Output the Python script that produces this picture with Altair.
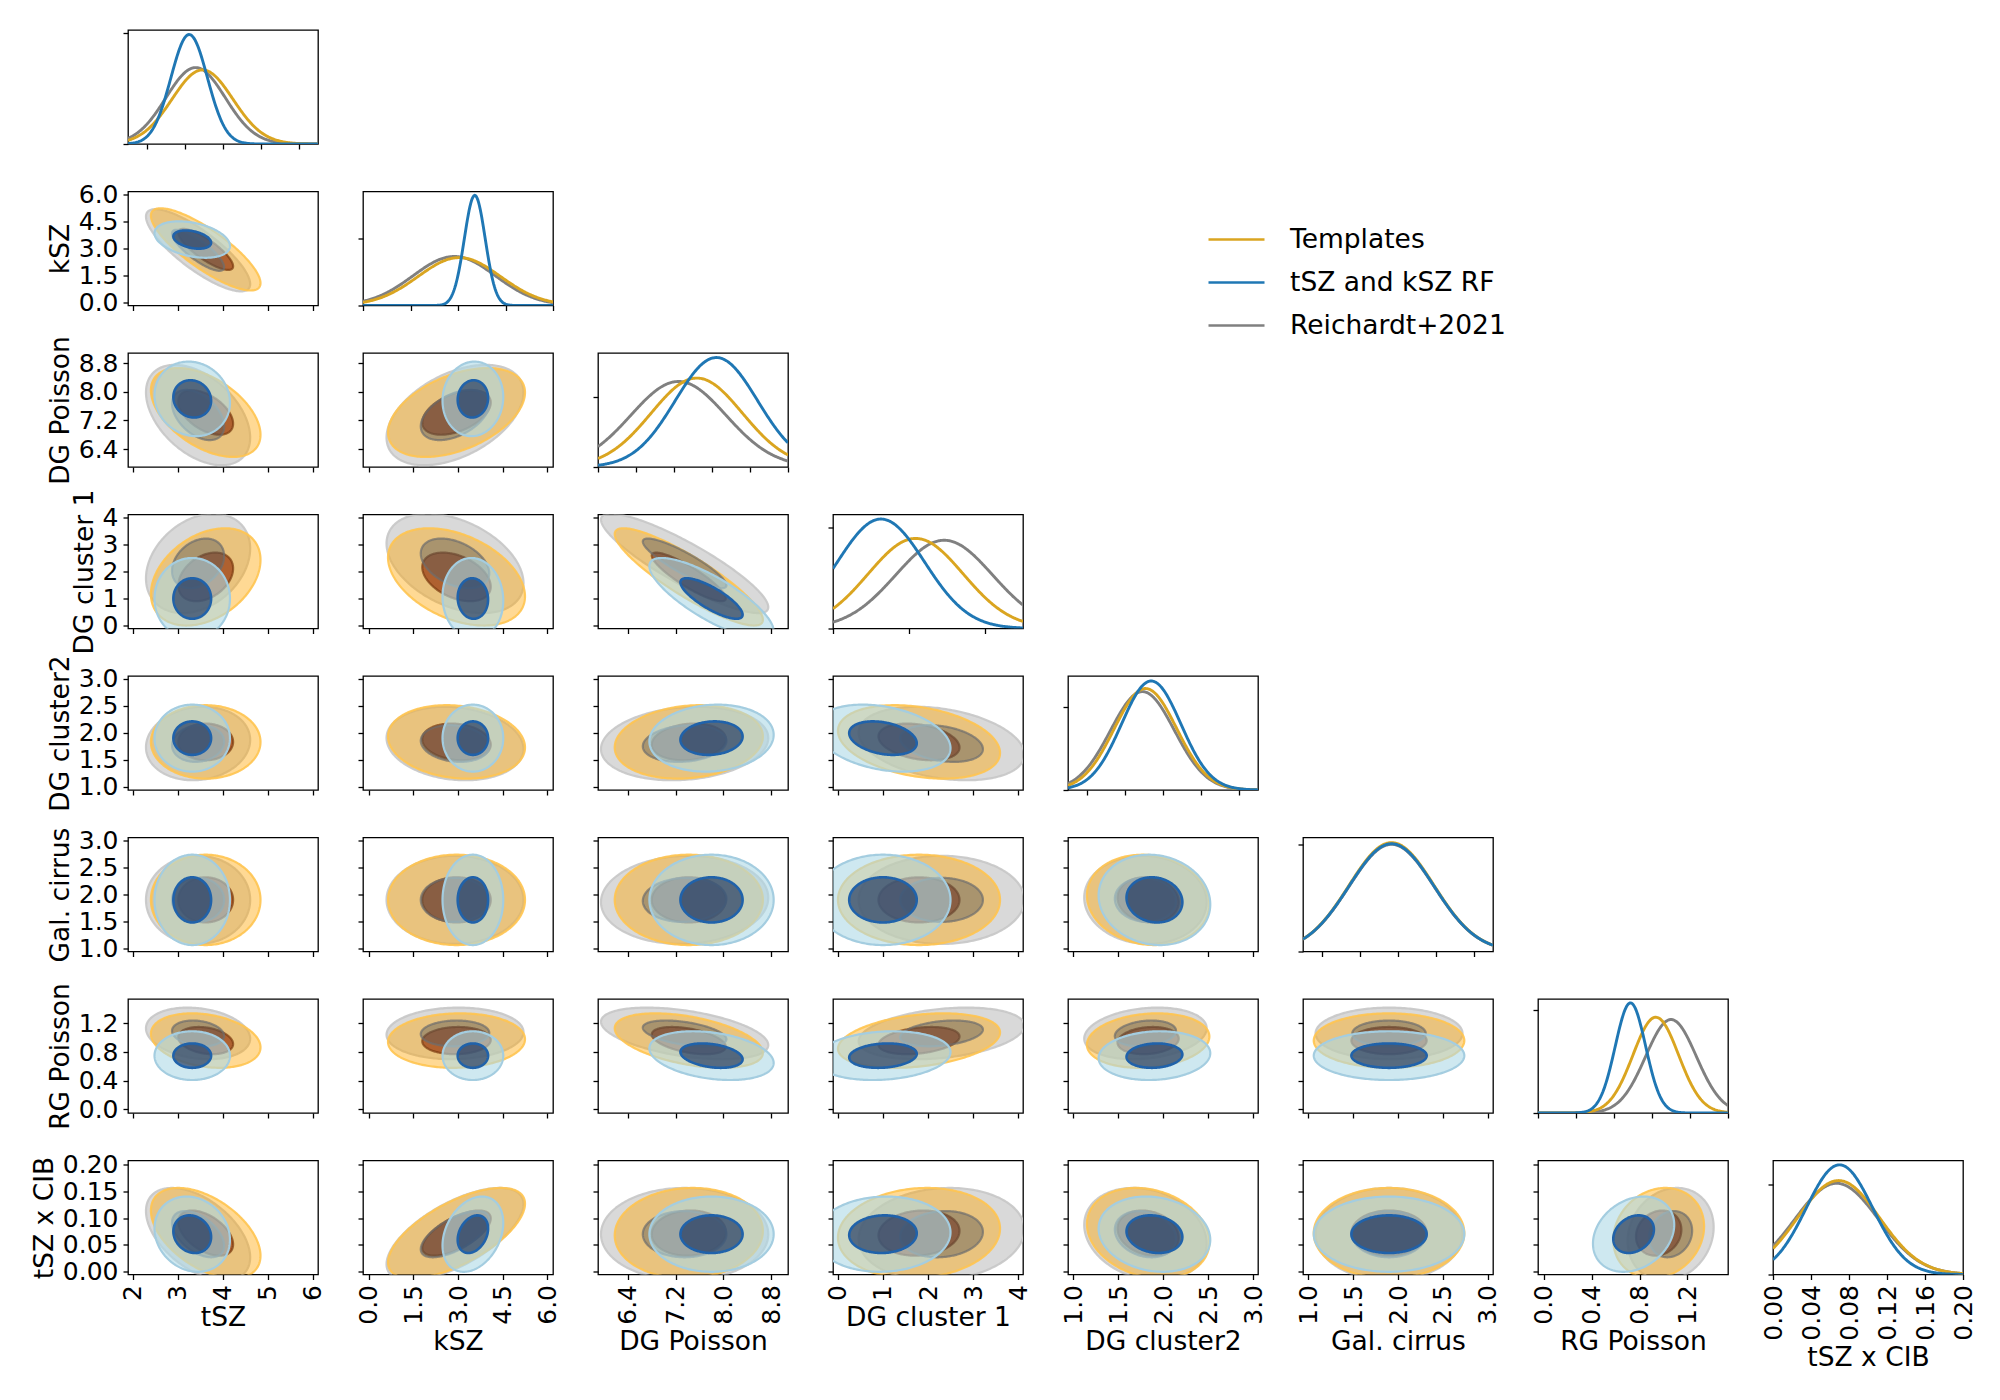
import numpy as np
import pandas as pd
import altair as alt

params = ["tSZ", "kSZ", "DG Poisson", "DG cluster 1", "DG cluster2",
          "Gal. cirrus", "RG Poisson", "tSZ x CIB"]
series = ["Templates", "tSZ and kSZ RF", "Reichardt+2021"]
line_colors = ["#DAA520", "#1f77b4", "#808080"]

# off-diagonal axis ranges / ticks
ax_lo = [1.89, -0.19, 5.90, -0.11, 0.94, 0.94, -0.05, -0.005]
ax_hi = [6.12, 6.19, 9.08, 4.11, 3.05, 3.06, 1.54, 0.207]
ax_ticks = [[2, 3, 4, 5, 6], [0.0, 1.5, 3.0, 4.5, 6.0], [6.4, 7.2, 8.0, 8.8],
            [0, 1, 2, 3, 4], [1.0, 1.5, 2.0, 2.5, 3.0], [1.0, 1.5, 2.0, 2.5, 3.0],
            [0.0, 0.4, 0.8, 1.2], [0.0, 0.05, 0.10, 0.15, 0.20]]
ax_fmt = ["d", ".1f", ".1f", "d", ".1f", ".1f", ".1f", ".2f"]

# diagonal axis ranges / ticks
dg_lo = [1.5, 0.0, 6.0, 0.0, 0.75, 0.75, 0.0, 0.0]
dg_hi = [6.5, 6.0, 9.0, 4.0, 3.25, 3.25, 1.5, 0.2]
dg_ticks = [[2, 3, 4, 5, 6], [0, 1.5, 3, 4.5, 6], [6.0, 6.6, 7.2, 7.8, 8.4, 9.0],
            [0, 0.8, 1.6, 2.4, 3.2, 4.0], [1, 1.5, 2, 2.5, 3], [1, 1.5, 2, 2.5, 3],
            [0, 0.3, 0.6, 0.9, 1.2, 1.5], [0.0, 0.04, 0.08, 0.12, 0.16, 0.20]]
dg_ytick = [0.974, 0.59, 0.61, 0.884, 0.724, 0.936, 0.90, 0.786]

# 1D marginals (mean, sd, relative peak height)
t1_mean = [3.46, 3.04, 7.56, 1.74, 1.77, 1.915, 0.93, 0.069]
t1_sd = [0.80, 1.30, 0.72, 1.00, 0.41, 0.56, 0.18, 0.043]
t1_peak = [0.65, 0.42, 0.78, 0.79, 0.89, 0.955, 0.84, 0.824]
b1_mean = [3.11, 3.53, 7.87, 1.01, 1.845, 1.915, 0.73, 0.070]
b1_sd = [0.48, 0.33, 0.65, 0.92, 0.39, 0.56, 0.12, 0.035]
b1_peak = [0.96, 0.966, 0.96, 0.96, 0.956, 0.945, 0.966, 0.962]
r1_mean = [3.28, 2.88, 7.27, 2.34, 1.73, 1.915, 1.05, 0.067]
r1_sd = [0.78, 1.30, 0.75, 1.02, 0.42, 0.56, 0.20, 0.044]
r1_peak = [0.67, 0.43, 0.75, 0.774, 0.863, 0.94, 0.82, 0.80]

# 2D posteriors (mean, sd) per parameter
t2_mean = [3.62, 2.95, 7.42, 1.80, 1.83, 1.90, 0.96, 0.072]
t2_sd = [0.61, 1.15, 0.62, 0.90, 0.34, 0.42, 0.19, 0.042]
b2_mean = [3.32, 3.50, 7.80, 1.00, 1.90, 1.90, 0.75, 0.070]
b2_sd = [0.42, 0.51, 0.52, 0.75, 0.31, 0.42, 0.17, 0.035]
r2_mean = [3.45, 2.90, 7.35, 2.30, 1.80, 1.90, 1.06, 0.070]
r2_sd = [0.58, 1.15, 0.70, 0.92, 0.34, 0.41, 0.18, 0.043]

# correlations, lower triangle: rho[i-1][j]
rho_T = [[-0.82],
         [-0.50, 0.45],
         [0.35, -0.40, -0.88],
         [0.00, -0.15, 0.15, -0.30],
         [0.00, 0.00, 0.00, 0.00, -0.10],
         [-0.25, 0.05, -0.45, 0.30, 0.15, 0.00],
         [-0.50, 0.65, 0.05, 0.10, -0.20, 0.00, 0.15]]
rho_B = [[-0.35],
         [-0.10, 0.05],
         [0.00, -0.05, -0.80],
         [0.00, 0.00, 0.10, -0.30],
         [0.00, 0.00, 0.00, 0.00, -0.10],
         [0.00, 0.00, -0.30, 0.15, 0.10, 0.00],
         [-0.15, 0.30, 0.00, 0.05, -0.15, 0.00, 0.25]]
rho_R = [[-0.82],
         [-0.45, 0.45],
         [0.30, -0.40, -0.88],
         [0.10, -0.15, 0.15, -0.30],
         [0.00, 0.00, 0.05, 0.00, -0.05],
         [-0.20, 0.05, -0.45, 0.30, 0.20, 0.00],
         [-0.50, 0.65, 0.00, 0.10, -0.20, 0.00, 0.15]]

m1 = [t1_mean, b1_mean, r1_mean]
s1 = [t1_sd, b1_sd, r1_sd]
p1 = [t1_peak, b1_peak, r1_peak]
m2 = [t2_mean, b2_mean, r2_mean]
s2 = [t2_sd, b2_sd, r2_sd]
rhos = [rho_T, rho_B, rho_R]

# draw order of filled contours: (series index, radius in sigma)
order = [(2, 2), (0, 2), (0, 1), (2, 1), (1, 2), (1, 1)]
styles = {
    (2, 2): dict(fill="#b4b4b4", fillOpacity=0.5, stroke="#c6c6c6", strokeWidth=2.2, strokeOpacity=0.9),
    (0, 2): dict(fill="#ffa500", fillOpacity=0.42, stroke="#ffc450", strokeWidth=2.2, strokeOpacity=0.9),
    (0, 1): dict(fill="#8b2500", fillOpacity=0.62, stroke="#7a3a10", strokeWidth=2.2, strokeOpacity=0.7),
    (2, 1): dict(fill="#5a5a5a", fillOpacity=0.45, stroke="#6e6e6e", strokeWidth=2.2, strokeOpacity=0.7),
    (1, 2): dict(fill="#add8e6", fillOpacity=0.6, stroke="#a4cde0", strokeWidth=2.2, strokeOpacity=1.0),
    (1, 1): dict(fill="#17305a", fillOpacity=0.65, stroke="#2062aa", strokeWidth=2.6, strokeOpacity=1.0),
}

W, H = 190, 114
FS = 25
TFS = 26.5


def xaxis(vals, fmt, show, title):
    kw = dict(values=vals, format=fmt, labels=show, ticks=True)
    if show:
        kw.update(title=title, labelAngle=270)
    else:
        kw.update(title=None)
    return alt.Axis(**kw)


def yaxis(vals, fmt, show, title):
    kw = dict(values=vals, format=fmt, labels=show, ticks=True)
    if show:
        kw.update(title=title)
    else:
        kw.update(title=None)
    return alt.Axis(**kw)


def offdiag(i, j):
    recs = []
    t = np.linspace(np.pi, 0, 121)
    for key, (s, r) in enumerate(order):
        mx, sx = m2[s][j], s2[s][j]
        my, sy = m2[s][i], s2[s][i]
        rho = rhos[s][i - 1][j]
        u = r * np.cos(t)
        half = sy * np.sqrt(1 - rho ** 2) * np.sqrt(np.clip(r * r - u * u, 0, None))
        cen = my + rho * sy * u
        for a, b, c in zip(mx + sx * u, cen - half, cen + half):
            recs.append({"x": a, "lo": b, "hi": c, "k": key})
    df = pd.DataFrame(recs)
    enc = dict(
        x=alt.X("x:Q", scale=alt.Scale(domain=[ax_lo[j], ax_hi[j]], nice=False, zero=False),
                axis=xaxis(ax_ticks[j], ax_fmt[j], i == 7, params[j])),
        y=alt.Y("lo:Q", scale=alt.Scale(domain=[ax_lo[i], ax_hi[i]], nice=False, zero=False),
                axis=yaxis(ax_ticks[i], ax_fmt[i], j == 0, params[i])),
        y2="hi:Q",
    )
    layers = []
    for key, so in enumerate(order):
        st = styles[so]
        layers.append(
            alt.Chart().transform_filter(alt.datum.k == key)
            .mark_area(clip=True, strokeJoin="round", **st).encode(**enc)
        )
    return alt.layer(*layers, data=df).properties(width=W, height=H)


legend = alt.Legend(title=None, orient="none", legendX=1079, legendY=180,
                    symbolType="stroke", symbolSize=3136, symbolStrokeWidth=2.5,
                    labelFontSize=TFS, labelOffset=24, rowPadding=0, padding=0,
                    labelLimit=500, labelColor="black")


def diag(i):
    xs = np.linspace(dg_lo[i], dg_hi[i], 241)
    recs = []
    for s in range(3):
        ys = p1[s][i] * np.exp(-0.5 * ((xs - m1[s][i]) / s1[s][i]) ** 2)
        for a, b in zip(xs, ys):
            recs.append({"x": a, "y": b, "s": series[s]})
    df = pd.DataFrame(recs)
    enc = dict(
        x=alt.X("x:Q", scale=alt.Scale(domain=[dg_lo[i], dg_hi[i]], nice=False, zero=False),
                axis=xaxis(dg_ticks[i], ax_fmt[i] if i != 7 else ".2f", i == 7, params[i])),
        y=alt.Y("y:Q", scale=alt.Scale(domain=[0, 1], nice=False, zero=False),
                axis=yaxis([0, dg_ytick[i]], ".2f", False, None)),
        color=alt.Color("s:N", scale=alt.Scale(domain=series, range=line_colors), legend=legend),
    )
    layers = []
    for s in [2, 0, 1]:
        layers.append(
            alt.Chart().transform_filter(alt.datum.s == series[s])
            .mark_line(clip=True, strokeWidth=2.9).encode(**enc)
        )
    return alt.layer(*layers, data=df).properties(width=W, height=H)


def empty():
    return alt.Chart(pd.DataFrame({"a": [0]})).mark_point(opacity=0).properties(
        width=W, height=H, view=alt.ViewBackground(stroke="transparent"))


cells = []
for i in range(8):
    for j in range(8):
        if j < i:
            cells.append(offdiag(i, j))
        elif j == i:
            cells.append(diag(i))
        else:
            cells.append(empty())

chart = alt.concat(*cells, columns=8, bounds="flush",
                   spacing={"row": 47.5, "column": 45}).resolve_scale(
    color="shared"
).properties(
    padding={"left": 22, "top": 21, "right": 5, "bottom": 5}
).configure(
    font="DejaVu Sans"
).configure_view(
    stroke="black", strokeWidth=1.3
).configure_axis(
    domain=False, tickColor="black", tickSize=5, tickWidth=1.3,
    labelFontSize=FS, titleFontSize=TFS, labelColor="black", titleColor="black",
    titleFontWeight="normal", labelPadding=5, titlePadding=4, grid=False
)

chart.save("out.html", embed_options={"renderer": "svg", "actions": False})
